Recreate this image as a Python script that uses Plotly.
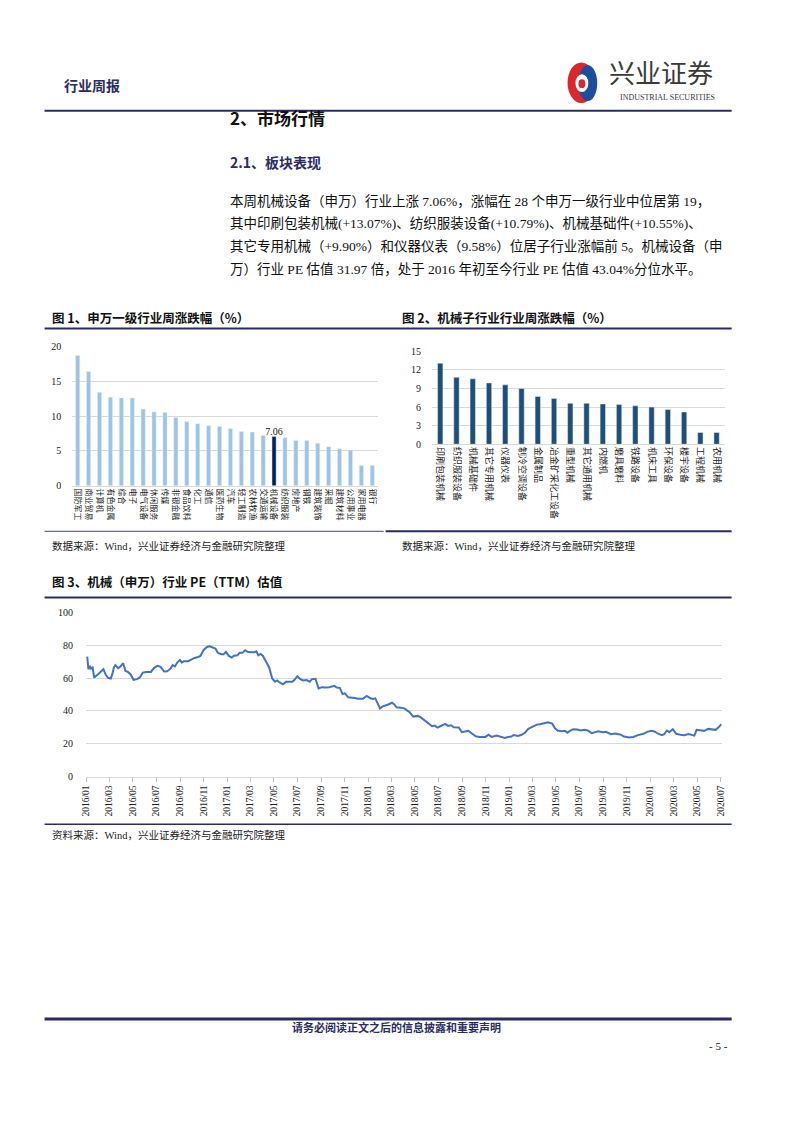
import plotly.graph_objects as go

# ---------------- data ----------------
ind1_names = ["国防军工", "商业贸易", "计算机", "有色金属", "综合", "电子", "电气设备", "休闲服务",
              "传媒", "非银金融", "食品饮料", "化工", "通信", "医药生物", "汽车", "轻工制造",
              "农林牧渔", "交通运输", "机械设备", "纺织服装", "房地产", "钢铁", "建筑装饰", "采掘",
              "建筑材料", "公用事业", "家用电器", "银行"]
ind1_values = [18.7, 16.4, 13.4, 12.7, 12.6, 12.6, 11.0, 10.6,
               10.5, 9.8, 9.2, 8.9, 8.6, 8.5, 8.2, 7.8,
               7.7, 7.2, 7.06, 6.9, 6.5, 6.5, 6.1, 5.6,
               5.3, 5.1, 2.9, 2.9]
highlight_name = "机械设备"

ind2_names = ["印刷包装机械", "纺织服装设备", "机械基础件", "其它专用机械", "仪器仪表", "制冷空调设备",
              "金属制品", "冶金矿采化工设备", "重型机械", "其它通用机械", "内燃机", "磨具磨料",
              "铁路设备", "机床工具", "环保设备", "楼宇设备", "工程机械", "农用机械"]
ind2_values = [13.07, 10.79, 10.55, 9.90, 9.58, 9.0,
               7.7, 7.4, 6.6, 6.6, 6.5, 6.4,
               6.2, 6.0, 5.6, 5.2, 1.9, 1.9]

pe_dates = ["2016-01-04", "2016-01-07", "2016-01-11", "2016-01-14", "2016-01-18", "2016-01-22",
            "2016-02-01", "2016-02-10", "2016-02-15", "2016-02-21", "2016-02-27", "2016-03-05",
            "2016-03-09", "2016-03-13", "2016-03-17", "2016-03-24", "2016-03-30", "2016-04-06",
            "2016-04-12", "2016-04-18", "2016-04-25", "2016-05-03", "2016-05-12", "2016-05-19",
            "2016-05-27", "2016-06-06", "2016-06-17", "2016-06-25", "2016-07-04", "2016-07-12",
            "2016-07-21", "2016-07-29", "2016-08-07", "2016-08-12", "2016-08-18", "2016-08-24",
            "2016-08-31", "2016-09-05", "2016-09-10", "2016-09-21", "2016-09-30", "2016-10-08",
            "2016-10-17", "2016-10-23", "2016-10-31", "2016-11-09", "2016-11-16", "2016-11-24",
            "2016-12-01", "2016-12-07", "2016-12-16", "2016-12-22", "2016-12-28", "2017-01-05",
            "2017-01-12", "2017-01-18", "2017-01-27", "2017-02-02", "2017-02-09", "2017-02-16",
            "2017-02-22", "2017-03-03", "2017-03-11", "2017-03-17", "2017-03-22", "2017-03-28",
            "2017-04-03", "2017-04-10", "2017-04-19", "2017-04-27", "2017-05-04", "2017-05-10",
            "2017-05-16", "2017-05-25", "2017-06-02", "2017-06-18", "2017-06-24", "2017-07-01",
            "2017-07-09", "2017-07-16", "2017-07-25", "2017-08-02", "2017-08-08", "2017-08-17",
            "2017-08-25", "2017-09-03", "2017-09-11", "2017-09-22", "2017-10-05", "2017-10-11",
            "2017-10-19", "2017-10-26", "2017-11-01", "2017-11-10", "2017-11-18", "2017-11-27",
            "2017-12-05", "2017-12-18", "2017-12-28", "2018-01-06", "2018-01-13", "2018-01-19",
            "2018-01-31", "2018-02-07", "2018-02-20", "2018-03-03", "2018-03-09", "2018-03-15",
            "2018-03-26", "2018-04-04", "2018-04-12", "2018-04-18", "2018-04-27", "2018-05-08",
            "2018-05-16", "2018-05-25", "2018-06-02", "2018-06-08", "2018-06-15", "2018-06-22",
            "2018-06-29", "2018-07-06", "2018-07-19", "2018-07-26", "2018-08-03", "2018-08-10",
            "2018-08-23", "2018-08-31", "2018-09-09", "2018-09-17", "2018-09-26", "2018-10-06",
            "2018-10-15", "2018-10-31", "2018-11-08", "2018-11-16", "2018-11-29", "2018-12-07",
            "2018-12-20", "2018-12-29", "2019-01-06", "2019-01-12", "2019-01-23", "2019-02-02",
            "2019-02-11", "2019-02-19", "2019-02-28", "2019-03-13", "2019-03-21", "2019-04-01",
            "2019-04-11", "2019-04-22", "2019-04-29", "2019-05-06", "2019-05-16", "2019-05-25",
            "2019-05-31", "2019-06-07", "2019-06-15", "2019-06-26", "2019-07-04", "2019-07-15",
            "2019-07-23", "2019-08-02", "2019-08-11", "2019-08-19", "2019-08-31", "2019-09-08",
            "2019-09-21", "2019-10-01", "2019-10-15", "2019-10-25", "2019-11-07", "2019-11-18",
            "2019-11-30", "2019-12-14", "2019-12-24", "2020-01-03", "2020-01-12", "2020-01-20",
            "2020-01-31", "2020-02-06", "2020-02-13", "2020-02-19", "2020-02-28", "2020-03-08",
            "2020-03-19", "2020-03-29", "2020-04-09", "2020-04-18", "2020-04-24", "2020-04-30",
            "2020-05-11", "2020-05-19", "2020-05-30", "2020-06-10", "2020-06-18", "2020-06-25",
            "2020-07-03"]
pe_values = [73.1, 65.4, 67.5, 65.8, 66.5, 60.4,
             62.4, 64.4, 65.4, 62.0, 60.2, 59.8,
             62.4, 66.5, 67.9, 66.1, 67.1, 69.1,
             64.4, 63.8, 62.4, 59.0, 59.4, 60.4,
             63.4, 63.8, 63.8, 66.3, 67.5, 66.9,
             64.0, 64.2, 65.9, 67.9, 67.1, 69.5,
             71.1, 69.5, 70.3, 70.3, 71.5, 72.3,
             72.9, 73.5, 77.0, 79.0, 79.4, 78.4,
             78.0, 75.5, 74.5, 74.5, 76.0, 73.5,
             72.5, 73.7, 73.9, 75.5, 75.5, 77.0,
             76.0, 75.8, 75.8, 76.4, 73.9, 74.7,
             73.5, 70.5, 66.5, 59.8, 57.8, 58.6,
             57.4, 56.2, 57.8, 57.8, 59.0, 61.2,
             59.4, 58.6, 58.8, 57.8, 59.4, 59.6,
             53.7, 54.5, 54.3, 54.5, 55.3, 54.3,
             54.1, 50.3, 50.7, 48.3, 48.3, 47.9,
             47.5, 47.5, 49.1, 47.7, 47.3, 47.7,
             41.6, 42.8, 43.8, 45.0, 44.0, 42.2,
             42.0, 41.6, 40.2, 39.2, 36.6, 37.0,
             36.2, 34.5, 33.5, 31.9, 30.7, 31.1,
             29.9, 30.7, 32.1, 30.9, 31.3, 30.1,
             29.9, 27.1, 27.5, 27.9, 26.3, 24.6,
             24.2, 24.2, 25.5, 24.2, 25.0, 24.6,
             23.6, 24.2, 24.4, 25.3, 24.8, 25.5,
             26.9, 29.1, 30.3, 31.7, 31.9, 32.3,
             33.1, 32.3, 29.5, 28.1, 27.7, 27.9,
             26.7, 27.9, 28.9, 28.7, 28.1, 28.5,
             28.1, 26.5, 27.1, 27.7, 27.1, 27.3,
             25.9, 26.3, 25.7, 24.4, 23.8, 24.2,
             25.3, 26.1, 27.3, 27.9, 27.5, 26.3,
             25.3, 25.9, 28.1, 27.1, 28.9, 26.1,
             25.5, 25.3, 25.9, 25.5, 25.0, 28.5,
             28.1, 27.9, 29.1, 28.9, 28.5, 29.9,
             31.97]
pe_tick_labels = ["2016/01", "2016/03", "2016/05", "2016/07", "2016/09", "2016/11",
                  "2017/01", "2017/03", "2017/05", "2017/07", "2017/09", "2017/11",
                  "2018/01", "2018/03", "2018/05", "2018/07", "2018/09", "2018/11",
                  "2019/01", "2019/03", "2019/05", "2019/07", "2019/09", "2019/11",
                  "2020/01", "2020/03", "2020/05", "2020/07"]

# ---------------- page geometry helpers ----------------
W, H = 793, 1122
def px(x):
    return x / W
def py(y):
    return 1 - y / H

SERIF = "Times New Roman, Liberation Serif, Noto Sans CJK SC"
CJK = "Noto Sans CJK SC, Liberation Serif"
NAVY = "#2B2D62"
GRID = "#D9D9D9"

fig = go.Figure()

# Chart 1
bar1_colors = ["#002060" if n == highlight_name else "#9DC3E6" for n in ind1_names]
bar1_text = [f"{v:.2f}" if n == highlight_name else "" for n, v in zip(ind1_names, ind1_values)]
fig.add_trace(go.Bar(x=ind1_names, y=ind1_values, marker_color=bar1_colors, width=0.38,
                     text=bar1_text, textposition="outside", constraintext="none",
                     textfont=dict(family=SERIF, size=10, color="#222"),
                     cliponaxis=False, xaxis="x", yaxis="y", showlegend=False))
# Chart 2
fig.add_trace(go.Bar(x=ind2_names, y=ind2_values, marker_color="#1F4E79", width=0.33,
                     xaxis="x2", yaxis="y2", showlegend=False))
# Chart 3
fig.add_trace(go.Scatter(x=pe_dates, y=pe_values, mode="lines",
                         line=dict(color="#4472C4", width=2), xaxis="x3", yaxis="y3",
                         showlegend=False))

tickfont = dict(family=SERIF, size=10, color="#222")
catfont1 = dict(family=CJK, size=8, color="#222")
catfont2 = dict(family=CJK, size=9, color="#222")

pe_tickvals = [lbl.replace("/", "-") + "-01" for lbl in pe_tick_labels]

fig.update_layout(
    width=W, height=H, margin=dict(l=0, r=0, t=0, b=0),
    paper_bgcolor="white", plot_bgcolor="white",
    bargap=0.6,
    xaxis=dict(domain=[px(68), px(377)], anchor="y", tickangle=90, tickfont=catfont1,
               showline=True, linecolor=GRID, linewidth=1, ticks="", showgrid=False),
    yaxis=dict(domain=[py(485), py(344)], anchor="x", range=[0, 20], dtick=5,
               showgrid=True, gridcolor=GRID, gridwidth=1, zeroline=False,
               tickfont=tickfont, ticks="", ticklabelstandoff=10),
    xaxis2=dict(domain=[px(432), px(728)], anchor="y2", tickangle=90, tickfont=catfont2,
                showline=True, linecolor=GRID, linewidth=1, ticks="", showgrid=False),
    yaxis2=dict(domain=[py(443), py(349)], anchor="x2", range=[0, 15], dtick=3,
                showgrid=True, gridcolor=GRID, gridwidth=1, zeroline=False,
                tickfont=tickfont, ticks="", ticklabelstandoff=10),
    xaxis3=dict(domain=[px(82), px(725)], anchor="y3", type="date",
                range=["2016-01-01", "2020-07-04"], tickvals=pe_tickvals,
                ticktext=pe_tick_labels, tickangle=-90,
                tickfont=dict(family=SERIF, size=9.5, color="#222"),
                showline=True, linecolor=GRID, linewidth=1, ticks="outside", ticklen=4,
                tickcolor="#BFBFBF", showgrid=False),
    yaxis3=dict(domain=[py(779), py(613)], anchor="x3", range=[0, 100], dtick=20,
                showgrid=True, gridcolor=GRID, gridwidth=1, zeroline=False,
                tickfont=tickfont, ticks="", ticklabelstandoff=12),
)

annotations = []
def text(x, y, s, size, color="#111", family=SERIF, xanchor="left", bold=False):
    annotations.append(dict(x=px(x), y=py(y), xref="paper", yref="paper",
                            text=(f"<b>{s}</b>" if bold else s),
                            showarrow=False, xanchor=xanchor, yanchor="middle",
                            font=dict(family=family, size=size, color=color)))

text(58, 80, "行业周报", 14, NAVY, CJK, bold=True)
text(609, 66, "兴业证券", 26, "#3A3A3A", CJK)
text(670, 92, "INDUSTRIAL SECURITIES", 8, "#3A3A3A", SERIF, xanchor="center")

text(226, 113, "2、市场行情", 17, "#111", CJK, bold=True)
text(226, 158, "2.1、板块表现", 14, NAVY, CJK, bold=True)

para = ["本周机械设备（申万）行业上涨 7.06%，涨幅在 28 个申万一级行业中位居第 19，",
        "其中印刷包装机械(+13.07%)、纺织服装设备(+10.79%)、机械基础件(+10.55%)、",
        "其它专用机械（+9.90%）和仪器仪表（9.58%）位居子行业涨幅前 5。机械设备（申",
        "万）行业 PE 估值 31.97 倍，处于 2016 年初至今行业 PE 估值 43.04%分位水平。"]
for i, line in enumerate(para):
    text(226, 197 + i * 22.8, line, 13.5, "#111", SERIF)

text(46, 315, "图 1、申万一级行业周涨跌幅（%）", 12.5, "#111", CJK, bold=True)
text(400, 315, "图 2、机械子行业行业周涨跌幅（%）", 12.5, "#111", CJK, bold=True)
text(46, 546, "数据来源：Wind，兴业证券经济与金融研究院整理", 10.5, "#222", SERIF)
text(400, 546, "数据来源：Wind，兴业证券经济与金融研究院整理", 10.5, "#222", SERIF)
text(46, 582, "图 3、机械（申万）行业 PE（TTM）估值", 12.5, "#111", CJK, bold=True)
text(46, 838, "资料来源：Wind，兴业证券经济与金融研究院整理", 10.5, "#222", SERIF)
text(396, 1032, "请务必阅读正文之后的信息披露和重要声明", 11, NAVY, CJK, xanchor="center", bold=True)
text(733, 1051, "- 5 -", 11, "#222", SERIF, xanchor="right")

shapes = []
def hline(x0, x1, y, w, color=NAVY):
    shapes.append(dict(type="line", xref="paper", yref="paper", x0=px(x0), x1=px(x1),
                       y0=py(y), y1=py(y), line=dict(color=color, width=w)))

hline(40, 735, 106, 2)
hline(40, 735, 326, 2)
hline(40, 383, 531, 1.2, "#6A6C8E")
hline(385, 735, 531, 2)
hline(40, 735, 598, 2)
hline(40, 735, 827, 1.5)
hline(40, 735, 1024, 3)

# logo mark
def ellipse(x0, y0, x1, y1, color):
    shapes.append(dict(type="circle", xref="paper", yref="paper", x0=px(x0), x1=px(x1),
                       y0=py(y1), y1=py(y0), fillcolor=color, line=dict(width=0)))
ellipse(569, 57, 597, 98, "#D7282F")
ellipse(580, 60, 599, 96, "#1D4E9E")
ellipse(577, 69, 590, 87, "white")
ellipse(580, 74, 587, 83, "#D7282F")

fig.update_layout(annotations=annotations, shapes=shapes)
fig.write_html("out.html", config={"displayModeBar": False},
               post_script="document.body.style.margin='0px';")
